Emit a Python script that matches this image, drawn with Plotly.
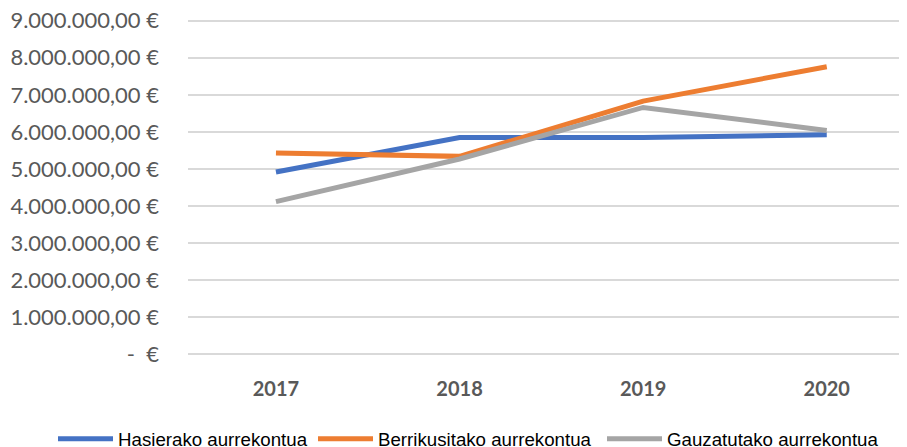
import plotly.graph_objects as go

years = ["2017", "2018", "2019", "2020"]
hasierako = [4920000, 5850000, 5850000, 5920000]
berrikusitako = [5430000, 5340000, 6830000, 7760000]
gauzatutako = [4120000, 5270000, 6660000, 6040000]

series_names = ["Hasierako aurrekontua", "Berrikusitako aurrekontua", "Gauzatutako aurrekontua"]
series_colors = ["#4472C4", "#ED7D31", "#A5A5A5"]

tick_vals = [0, 1e6, 2e6, 3e6, 4e6, 5e6, 6e6, 7e6, 8e6, 9e6]
tick_text = ["-  €", "1.000.000,00 €", "2.000.000,00 €", "3.000.000,00 €", "4.000.000,00 €",
             "5.000.000,00 €", "6.000.000,00 €", "7.000.000,00 €", "8.000.000,00 €", "9.000.000,00 €"]

# the page body adds an 8px offset, so the figure is sized to fill the window after it
W, H = 899, 439
legend_ids = ["legend", "legend2", "legend3"]
legend_left_px = [50, 310, 599]  # where each legend's line symbol starts (figure px)

fig = go.Figure()
for name, vals, col, lid in zip(series_names, [hasierako, berrikusitako, gauzatutako],
                                series_colors, legend_ids):
    fig.add_trace(go.Scatter(x=years, y=vals, name=name, mode="lines",
                             line=dict(color=col, width=5), legend=lid))

layout_legends = {}
for lid, px in zip(legend_ids, legend_left_px):
    layout_legends[lid] = dict(
        orientation="h", xref="container", yref="container",
        x=(px - 5) / W, y=1 - 431 / H, xanchor="left", yanchor="middle",
        bgcolor="rgba(0,0,0,0)", borderwidth=0,
        font=dict(family="Liberation Sans", size=18.7, color="#000000"),
        itemwidth=55,
    )

fig.update_layout(
    width=W, height=H,
    margin=dict(l=180, r=0, t=9.3, b=89.3, autoexpand=False),
    paper_bgcolor="white", plot_bgcolor="white",
    showlegend=True,
    **layout_legends,
)
fig.update_xaxes(type="category", range=[-0.479, 3.437], showgrid=False, showline=False,
                 tickfont=dict(family="Lato", size=20, color="#595959", weight="bold"),
                 ticks="", ticklabelstandoff=17)
fig.update_yaxes(range=[-0.1e6, 9.1e6], tickvals=tick_vals, ticktext=tick_text,
                 showgrid=True, gridcolor="#D9D9D9", gridwidth=2, zeroline=False,
                 showline=False, ticks="", ticklabelstandoff=28, ticklabeloverflow="allow",
                 tickfont=dict(family="Lato", size=22, color="#595959"))

fig.write_html("out.html")
